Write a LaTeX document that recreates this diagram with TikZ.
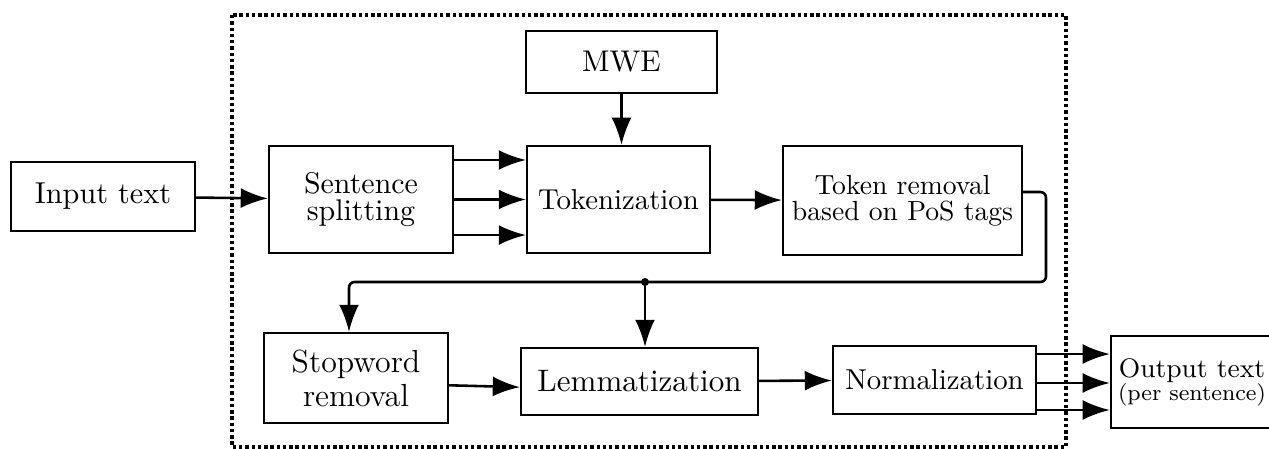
\documentclass[tikz,border=0pt]{standalone}
\usetikzlibrary{arrows.meta}

\tikzset{
  block/.style={draw, line width=0.8pt, inner sep=0pt, align=center},
  flow/.style={line width=0.9pt, -{Latex[length=9.5pt,width=7pt]}},
}

\begin{document}
\begin{tikzpicture}[x=0.01233cm, y=-0.01233cm]
  % Page size (same proportions as the original)
  \useasboundingbox (0,0) rectangle (1269,449);

  % Dotted frame around the preprocessing steps
  \draw[dash pattern=on 1.2pt off 1pt, line width=1.2pt] (232,15) rectangle (1066,447);

  % Upper row
  \node[block, minimum width=2.27cm, minimum height=0.85cm, font=\fontsize{10.6}{12}\selectfont] (input) at (103,196.5) {Input text};
  \node[block, minimum width=2.27cm, minimum height=1.32cm, font=\fontsize{10.5}{9.5}\selectfont] (split) at (361,199.5) {Sentence\\splitting};
  \node[block, minimum width=2.355cm, minimum height=0.765cm, font=\fontsize{10.5}{12}\selectfont] (mwe) at (621.5,62) {MWE};
  \node[block, minimum width=2.256cm, minimum height=1.32cm, font=\fontsize{10.1}{12}\selectfont] (tok) at (618.5,199.5) {Tokenization};
  \node[block, minimum width=2.947cm, minimum height=1.344cm, font=\fontsize{9.7}{9.1}\selectfont] (posrm) at (902.5,200.5) {Token removal\\based on PoS tags};

  % Lower row
  \node[block, minimum width=2.27cm, minimum height=1.11cm, font=\fontsize{11.2}{11.9}\selectfont] (stop) at (356,378) {Stopword\\removal};
  \node[block, minimum width=2.922cm, minimum height=0.826cm, font=\fontsize{10.9}{12}\selectfont] (lemma) at (639.5,381.5) {Lemmatization};
  \node[block, minimum width=2.503cm, minimum height=0.838cm, font=\fontsize{10.1}{12}\selectfont] (norm) at (934.5,380) {Normalization};
  \node[block, minimum width=2.0cm, minimum height=1.134cm, font=\fontsize{9.4}{8.1}\selectfont] (out) at (1192,382) {Output text\\{\fontsize{7.9}{8.1}\selectfont (per sentence)}};

  % Points of the return line
  \coordinate (turn) at (1046,282);
  \coordinate (drop) at (349,282);
  \coordinate (fork) at (645,282);

  % Connectors
  \draw[flow] (input) -- (split);
  \foreach \dy in {0.487,0,-0.438}
    \draw[flow] ([yshift=\dy cm]split.east) -- ([yshift=\dy cm]tok.west);
  \draw[flow] (mwe.south) -- (mwe.south |- tok.north);
  \draw[flow] (tok) -- (posrm);
  \draw[flow, rounded corners=2pt] ([yshift=0.105cm]posrm.east) -| (turn) -- (drop) -- (drop |- stop.north);
  \fill (fork) circle (1.4pt);
  \draw[flow] (fork) -- (fork |- lemma.north);
  \draw[flow] ([yshift=-0.09cm]stop.east) -- ([yshift=-0.07cm]lemma.west);
  \draw[flow] (lemma) -- (norm);
  \foreach \dy in {0.32,-0.037,-0.37}
    \draw[flow] ([yshift=\dy cm]norm.east) -- ([yshift=\dy cm]norm.east -| out.west);
\end{tikzpicture}
\end{document}
